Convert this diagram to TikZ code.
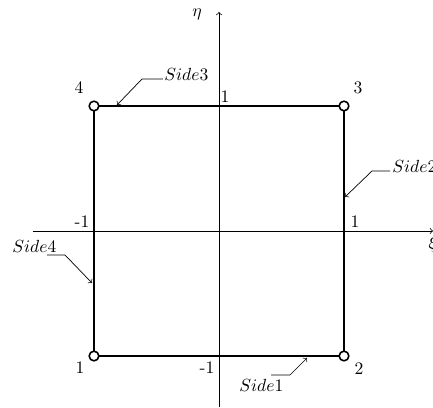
\documentclass[tikz,border=0pt]{standalone}
\usetikzlibrary{positioning}
\begin{document}
\begin{tikzpicture}[x=2.5cm, y=2.5cm,
        edge/.style={line width=1.5pt},
        vtx/.style={circle, draw, line width=0.9pt, fill=white, inner sep=0pt, minimum size=5.5pt},
        lead/.style={->, thin},
        tag/.style={inner sep=0pt, anchor=base west}]
    \useasboundingbox (-1.752,-1.408) rectangle (1.712,1.848);
    % axes
    \coordinate (xl) at (-1.488,0);
    \coordinate (xr) at (1.712,0);
    \coordinate (yb) at (0,-1.408);
    \coordinate (yt) at (0,1.752);
    \draw[->] (xl) -- (xr);
    \draw[->] (yb) -- (yt);
    \node (xi) at (1.71,-0.104) {$\xi$};
    \node (eta) at (-0.176,1.736) {$\eta$};
    % element
    \coordinate (c1) at (-1,-1);
    \coordinate (c2) at (1,-1);
    \coordinate (c3) at (1,1);
    \coordinate (c4) at (-1,1);
    \draw[edge] (c1) -- (c2) -- (c3) -- (c4) -- cycle;
    \foreach \c in {c1,c2,c3,c4}
        \node[vtx] at (\c) {};
    \node (n1) at (-1.112,-1.096) {1};
    \node (n2) at (1.12,-1.104) {2};
    \node (n3) at (1.112,1.144) {3};
    \node (n4) at (-1.12,1.144) {4};
    \node (ytop) at (0.048,1.072) {1};
    \node (ybot) at (-0.096,-1.096) {-1};
    \node (xrgt) at (1.088,0.072) {1};
    \node (xlft) at (-1.096,0.072) {-1};
    % side labels
    \node[tag] (s1) at (0.16,-1.28) {$Side1$};
    \coordinate (s1a) at (0.416,-1.152);
    \coordinate (s1b) at (0.568,-1.152);
    \coordinate (s1c) at (0.704,-1.016);
    \draw[lead] (s1a) -- (s1b) -- (s1c);
    \node[tag] (s2) at (1.384,0.47) {$Side2$};
    \coordinate (s2a) at (1.368,0.48);
    \coordinate (s2b) at (1.224,0.48);
    \coordinate (s2c) at (1.008,0.272);
    \draw[lead] (s2a) -- (s2b) -- (s2c);
    \node[tag] (s3) at (-0.44,1.2) {$Side3$};
    \coordinate (s3a) at (-0.448,1.216);
    \coordinate (s3b) at (-0.616,1.216);
    \coordinate (s3c) at (-0.816,1.008);
    \draw[lead] (s3a) -- (s3b) -- (s3c);
    \node[tag] (s4) at (-1.656,-0.176) {$Side4$};
    \coordinate (s4a) at (-1.376,-0.192);
    \coordinate (s4b) at (-1.232,-0.192);
    \coordinate (s4c) at (-1.016,-0.416);
    \draw[lead] (s4a) -- (s4b) -- (s4c);
\end{tikzpicture}
\end{document}
